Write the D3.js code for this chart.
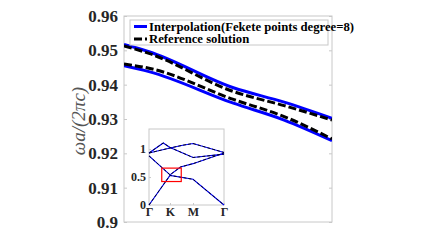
<!DOCTYPE html>
<html>
<head>
<meta charset="utf-8">
<script src="https://cdn.jsdelivr.net/npm/d3@7"></script>
<style>
  body { margin: 0; background: #fff; }
  text { font-family: "Liberation Serif", "Times New Roman", serif; }
</style>
</head>
<body>
<div id="container"></div>
<script>
// main plot data (k along the path, 0..1)
const kMain = [0, 0.12, 0.526, 0.77, 1];
const interpUpper = [0.9517, 0.9496, 0.9391, 0.9349, 0.9302];
const interpLower = [0.9455, 0.9438, 0.9346, 0.9297, 0.9237];
const refUpper = [0.9513, 0.9491, 0.9380, 0.9339, 0.9297];
const refLower = [0.9460, 0.9448, 0.9357, 0.9307, 0.9242];
const yTicks = [0.9, 0.91, 0.92, 0.93, 0.94, 0.95, 0.96];
const legendLabels = ["Interpolation(Fekete points degree=8)", "Reference solution"];

// inset band structure
const insetTickK = [0, 0.28, 0.587, 1];
const insetTickLabels = ["Γ", "K", "M", "Γ"];
const insetYTicks = [0, 0.5, 1];
const band1 = [[0, 0], [0.28, 0.53], [0.587, 0.46], [1, 0]];
const band2 = [[0, 0.88], [0.28, 0.54], [0.42, 0.68], [0.587, 0.74], [1, 0.93]];
const band3 = [[0, 0.93], [0.19, 1.11], [0.28, 1.03], [0.587, 0.85], [1, 0.91]];
const band4 = [[0, 0.93], [0.28, 1.02], [0.45, 1.07], [0.587, 1.1], [1, 0.94]];
const redBox = {k0: 0.17, k1: 0.43, v0: 0.42, v1: 0.66};

const width = 434, height = 247;
const svg = d3.select("#container").append("svg")
  .attr("width", width).attr("height", height);

const mLeft = 124, mRight = 332, mTop = 16, mBottom = 222;
const x = d3.scaleLinear().domain([0, 1]).range([mLeft, mRight]);
const y = d3.scaleLinear().domain([0.9, 0.96]).range([mBottom, mTop]);

svg.append("clipPath").attr("id", "clip")
  .append("rect").attr("x", mLeft).attr("y", mTop)
  .attr("width", mRight - mLeft).attr("height", mBottom - mTop);

// axes box
svg.append("rect").attr("x", mLeft).attr("y", mTop)
  .attr("width", mRight - mLeft).attr("height", mBottom - mTop)
  .attr("fill", "none").attr("stroke", "#c8c8c8").attr("stroke-width", 1);

svg.append("g").attr("transform", `translate(${mLeft},0)`)
  .call(d3.axisLeft(y).tickValues(yTicks).tickSize(-3).tickPadding(6)
    .tickFormat(d => d3.format(".2~f")(d)))
  .call(g => g.select(".domain").remove())
  .call(g => g.selectAll("line").attr("stroke", "#c8c8c8"))
  .call(g => g.selectAll("text").attr("font-size", 17).attr("font-weight", "bold")
    .attr("fill", "#262626").style("font-family", '"Liberation Serif", serif'));

svg.append("g").attr("transform", `translate(${mRight},0)`)
  .call(d3.axisRight(y).tickValues(yTicks).tickSize(-3).tickFormat(""))
  .call(g => g.select(".domain").remove())
  .call(g => g.selectAll("line").attr("stroke", "#c8c8c8"));

svg.append("text")
  .attr("transform", `translate(85,${(mTop + mBottom) / 2 + 2}) rotate(-90)`)
  .attr("text-anchor", "middle")
  .attr("font-size", 19).attr("font-style", "italic").attr("fill", "#555")
  .text("ωa/(2πc)");

const line = d3.line().x(d => x(d[0])).y(d => y(d[1])).curve(d3.curveMonotoneX);
const plot = svg.append("g").attr("clip-path", "url(#clip)");
[interpUpper, interpLower].forEach(s => {
  plot.append("path").datum(kMain.map((k, i) => [k, s[i]]))
    .attr("d", line).attr("fill", "none").attr("stroke", "#0000ff").attr("stroke-width", 3);
});
[refUpper, refLower].forEach(s => {
  plot.append("path").datum(kMain.map((k, i) => [k, s[i]]))
    .attr("d", line).attr("fill", "none").attr("stroke", "#000")
    .attr("stroke-width", 3).attr("stroke-dasharray", "8,3");
});

// legend
const lg = svg.append("g");
lg.append("rect").attr("x", 130).attr("y", 20).attr("width", 198).attr("height", 25)
  .attr("fill", "#fff").attr("stroke", "#c8c8c8");
legendLabels.forEach((t, i) => {
  const yy = 26.5 + i * 12.5;
  lg.append("line").attr("x1", 134).attr("x2", 147).attr("y1", yy).attr("y2", yy)
    .attr("stroke", i === 0 ? "#0000ff" : "#000").attr("stroke-width", 3)
    .attr("stroke-dasharray", i === 0 ? null : "8,3");
  lg.append("text").attr("x", 149).attr("y", yy + 4).attr("font-size", 12.7)
    .attr("font-weight", "bold").attr("fill", "#000").text(t);
});

// inset
const iL = 149, iR = 224, iT = 129, iB = 205;
const ix = d3.scaleLinear().domain([0, 1]).range([iL, iR]);
const iy = d3.scaleLinear().domain([0, 1.36]).range([iB, iT]);
svg.append("rect").attr("x", iL).attr("y", iT).attr("width", iR - iL).attr("height", iB - iT)
  .attr("fill", "#fff").attr("stroke", "#c8c8c8");

svg.append("g").attr("transform", `translate(${iL},0)`)
  .call(d3.axisLeft(iy).tickValues(insetYTicks).tickSize(-2).tickPadding(3)
    .tickFormat(d => d3.format("~g")(d)))
  .call(g => g.select(".domain").remove())
  .call(g => g.selectAll("line").attr("stroke", "#c8c8c8"))
  .call(g => g.selectAll("text").attr("font-size", 12).attr("font-weight", "bold")
    .attr("fill", "#262626").style("font-family", '"Liberation Serif", serif'));

svg.append("g").attr("transform", `translate(0,${iB})`)
  .call(d3.axisBottom(ix).tickValues(insetTickK).tickSize(-2).tickPadding(2)
    .tickFormat((d, i) => insetTickLabels[i]))
  .call(g => g.select(".domain").remove())
  .call(g => g.selectAll("line").attr("stroke", "#c8c8c8"))
  .call(g => g.selectAll("text").attr("font-size", 12).attr("font-weight", "bold")
    .attr("fill", "#262626").style("font-family", '"Liberation Serif", serif'));

const iline = d3.line().x(d => ix(d[0])).y(d => iy(d[1]));
[band1, band2, band3, band4].forEach(b => {
  svg.append("path").datum(b).attr("d", iline).attr("fill", "none")
    .attr("stroke", "#0000ff").attr("stroke-width", 1.1);
  svg.append("path").datum(b).attr("d", iline).attr("fill", "none")
    .attr("stroke", "#000").attr("stroke-width", 0.9).attr("stroke-dasharray", "3,2");
});

svg.append("rect")
  .attr("x", ix(redBox.k0)).attr("y", iy(redBox.v1))
  .attr("width", ix(redBox.k1) - ix(redBox.k0)).attr("height", iy(redBox.v0) - iy(redBox.v1))
  .attr("fill", "none").attr("stroke", "#ff0000").attr("stroke-width", 1.2);
</script>
</body>
</html>
